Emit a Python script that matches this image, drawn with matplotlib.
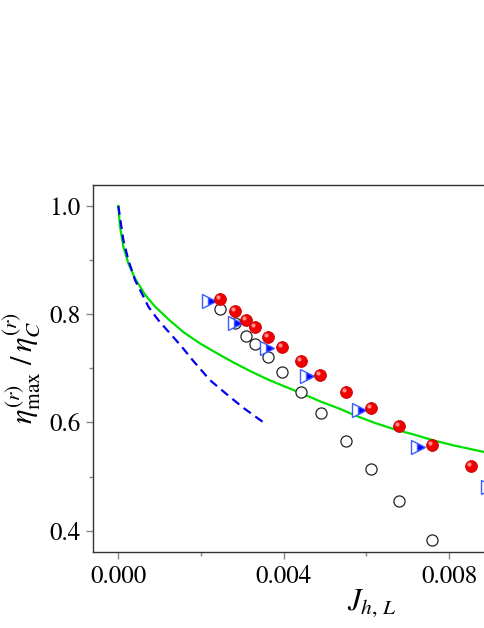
import numpy as np
import matplotlib
matplotlib.use('Agg')
from matplotlib import pyplot as plt
from matplotlib.transforms import ScaledTranslation

plt.rcParams['font.family'] = ['STIXGeneral', 'Liberation Serif', 'DejaVu Serif']
plt.rcParams['mathtext.fontset'] = 'stix'

# green solid curve
green_x = [0.0, 0.000041, 0.000121, 0.000242, 0.000404, 0.000646, 0.000888,
           0.00125, 0.001572, 0.001976, 0.00238, 0.002781, 0.003185,
           0.003628, 0.00391, 0.004394, 0.004878, 0.005362, 0.005724,
           0.006208, 0.006691, 0.007175, 0.007659, 0.008143, 0.008627,
           0.008868, 0.0093]
green_y = [1.0, 0.962, 0.925, 0.894, 0.866, 0.836, 0.814,
           0.788, 0.767, 0.746, 0.728, 0.711, 0.695,
           0.679, 0.670, 0.655, 0.639, 0.625, 0.613,
           0.599, 0.587, 0.577, 0.566, 0.557, 0.549,
           0.545, 0.538]

# blue dashed curve
blue_x = [0.0, 0.000121, 0.000242, 0.000404, 0.000565, 0.000726, 0.000967,
          0.001209, 0.001533, 0.001775, 0.002218, 0.002622, 0.003023, 0.003548]
blue_y = [1.0, 0.937, 0.900, 0.863, 0.839, 0.814, 0.789,
          0.768, 0.740, 0.717, 0.678, 0.652, 0.627, 0.598]

# red spheres
red_x = [0.002467, 0.002815, 0.003096, 0.003298, 0.00362, 0.00396, 0.00441,
         0.004885, 0.005507, 0.006104, 0.006796, 0.007586, 0.00853]
red_y = [0.828, 0.806, 0.789, 0.777, 0.758, 0.739, 0.713,
         0.688, 0.656, 0.626, 0.594, 0.558, 0.519]

# open circles
open_x = [0.002467, 0.002815, 0.003096, 0.003298, 0.00362, 0.00396, 0.00441,
          0.004895, 0.005507, 0.006104, 0.006796, 0.007586]
open_y = [0.810, 0.783, 0.760, 0.745, 0.720, 0.693, 0.656,
          0.617, 0.565, 0.514, 0.454, 0.383]

# half filled triangles
tri_x = [0.0022, 0.002823, 0.003589, 0.004556, 0.005814, 0.007248, 0.00894]
tri_y = [0.825, 0.783, 0.738, 0.686, 0.623, 0.554, 0.481]

fig = plt.figure(figsize=(4.85, 6.28), dpi=100)
ax = fig.add_axes([0.1918, 0.121, 0.8366, 0.585])

ax.plot(green_x, green_y, color='#00e000', lw=1.6, zorder=2)
ax.plot(blue_x, blue_y, color='#0000ee', lw=1.6, dashes=(4, 2.5), zorder=2)

ax.plot(open_x, open_y, 'o', ms=8, mfc='white', mec='#222222', mew=0.9, zorder=3)

ax.plot(tri_x, tri_y, '>', ms=10, fillstyle='right', mfc='#0000ff',
        mfcalt='white', mec='#3d5cff', mew=1.0, zorder=4)

ax.plot(red_x, red_y, 'o', ms=8.5, mfc='#f00000', mec='#c80000', mew=0.6, zorder=5)
hl = ax.transData + ScaledTranslation(-1.5 / 72, 1.5 / 72, fig.dpi_scale_trans)
ax.plot(red_x, red_y, 'o', ms=3, mfc='#ffa0a0', mec='none', alpha=0.9,
        transform=hl, zorder=6)

ax.set_xlim(-0.000612, 0.0092)
ax.set_ylim(0.3606, 1.0394)
ax.set_xticks([0.0, 0.004, 0.008])
ax.set_xticks([0.002, 0.006], minor=True)
ax.set_xticklabels(['0.000', '0.004', '0.008'])
ax.set_yticks([0.4, 0.6, 0.8, 1.0])
ax.set_yticks([0.5, 0.7, 0.9], minor=True)
ax.set_yticklabels(['0.4', '0.6', '0.8', '1.0'])

ax.tick_params(which='major', direction='out', length=5, width=1,
               color='#888888', labelsize=18, pad=4)
ax.tick_params(which='minor', direction='out', length=3, width=1, color='#888888')
for s in ['left', 'bottom', 'top']:
    ax.spines[s].set_color('#333333')
    ax.spines[s].set_linewidth(1.0)
ax.spines['right'].set_visible(False)

ax.set_ylabel(r'$\eta^{(r)}_{\mathrm{max}}\ /\,\eta^{(r)}_{C}$', fontsize=22)
ax.yaxis.set_label_coords(-0.125, 0.5)
ax.set_xlabel(r'$J_{h,\,L}$', fontsize=22)
ax.xaxis.set_label_coords(0.687, -0.095)

fig.savefig('out.png', dpi=100)
